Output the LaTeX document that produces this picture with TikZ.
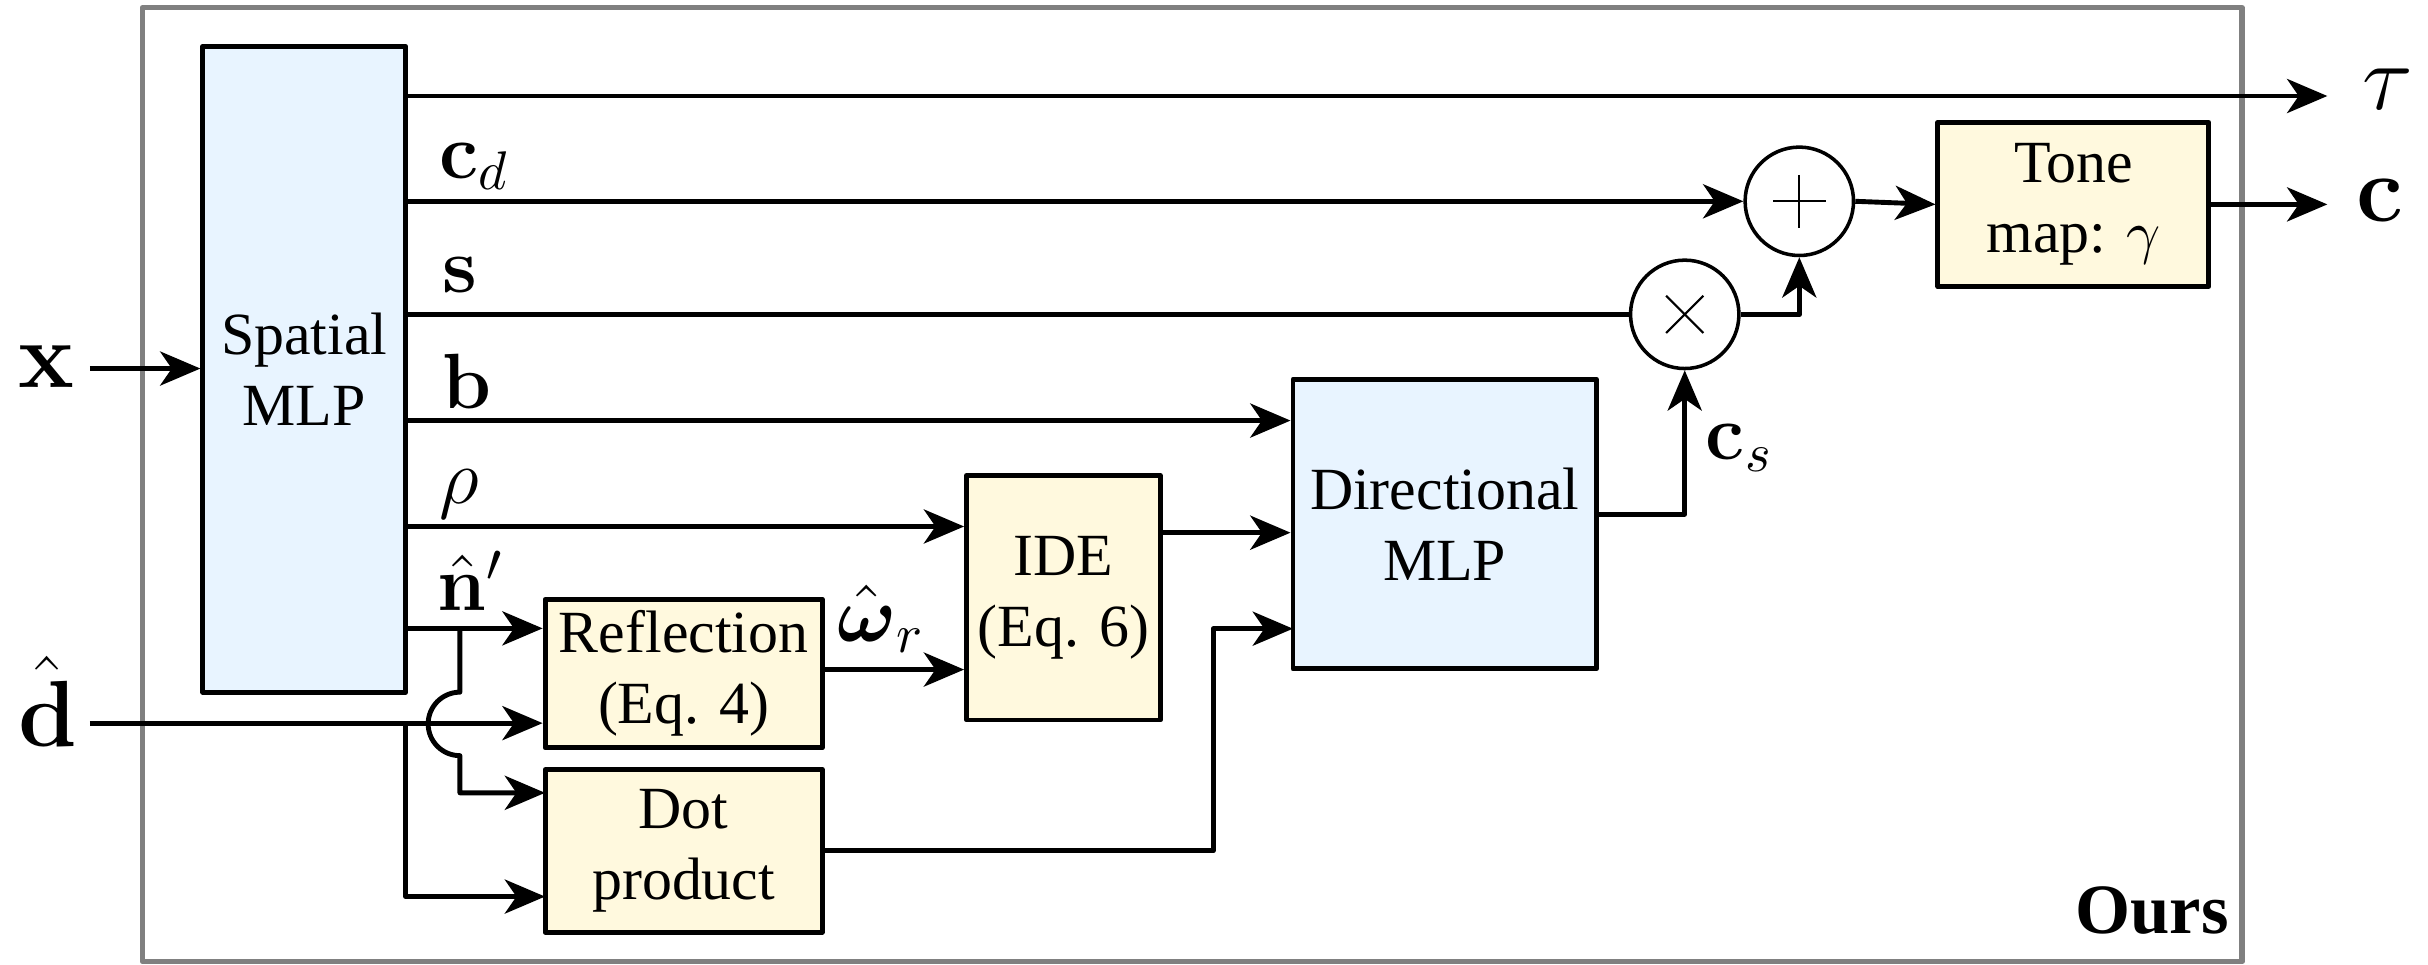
\documentclass[tikz,border=0pt]{standalone}
\usepackage{amsmath,amssymb}
\usepackage[no-math]{fontspec}
\setmainfont{Liberation Serif}
\usetikzlibrary{arrows.meta,calc,positioning}

\definecolor{mlpblue}{RGB}{232,244,255}
\definecolor{opyellow}{RGB}{255,249,222}
\definecolor{framegray}{RGB}{128,128,128}

\begin{document}
\begin{tikzpicture}[x=0.1mm,y=-0.1mm,line join=round,
  blk/.style={draw,line width=0.9pt,inner sep=0pt,align=center,font=\fontsize{11}{13}\selectfont},
  mlp/.style={blk,fill=mlpblue},
  op/.style={blk,fill=opyellow},
  sumnode/.style={draw,circle,line width=0.65pt,minimum size=7mm,inner sep=0pt},
  arr/.style={->,line width=0.9pt},
  lab/.style={anchor=base west,inner sep=0pt,font=\Large},
  biglab/.style={anchor=base west,inner sep=0pt,font=\fontsize{16}{18}\selectfont},
  >={Stealth[length=2.6mm,width=2.2mm,inset=0.75mm]}]
\useasboundingbox (0,0) rectangle (1568,623);
\draw[framegray,line width=1pt] (92,5) rectangle (1448,621);
% blocks
\node[mlp,minimum width=13.1mm,minimum height=41.7mm] (spatial) at (196.5,238.5) {Spatial\\MLP};
\node[mlp,minimum width=19.6mm,minimum height=18.7mm] (dir) at (933,338.5) {Directional\\MLP};
\node[op,minimum width=12.5mm,minimum height=15.8mm] (ide) at (686.7,386) {IDE\\(Eq. 6)};
\node[op,minimum width=17.9mm,minimum height=9.6mm] (refl) at (441.5,435) {Reflection\\(Eq. 4)};
\node[op,minimum width=17.9mm,minimum height=10.5mm] (dot) at (441.5,549.5) {Dot\\product};
\node[op,minimum width=17.5mm,minimum height=10.6mm] (tone) at (1339,132) {Tone\\map: $\gamma$};
\node[sumnode] (plus) at (1162,130) {};
\node[sumnode] (times) at (1088,203) {};
\draw[line width=0.4pt] ($(plus)+(-17,0)$)--($(plus)+(17,0)$) ($(plus)+(0,-17)$)--($(plus)+(0,17)$);
\draw[line width=0.4pt] ($(times)+(-12,-12)$)--($(times)+(12,12)$) ($(times)+(-12,12)$)--($(times)+(12,-12)$);
% taps and ends
\foreach \n/\y in {tau/62,cd/130,s/203,b/271.6,rho/340,n/405.8}{\coordinate (\n) at (262,\y);}
\coordinate (xin) at (58,238);
\coordinate (din) at (58,467);
\coordinate (tauout) at (1503,62);
\coordinate (cout) at (1503,132);
\coordinate (cs) at (1031,332);
\coordinate (ideo) at (749.5,344);
\coordinate (wr) at (531,432.4);
\coordinate (dotbend) at (783.5,549.5);
\coordinate (dirin) at (835,406);
\coordinate (dj) at (262,467);
\coordinate (nj) at (297,405.8);
\coordinate (hop) at (297,447);
\coordinate (dotn) at (352,512);
\coordinate (dotd) at (352,579);
% connectors
\draw[arr] (xin) -- (spatial.west |- xin);
\draw[arr] (tau) -- (tauout);
\draw[arr] (cd) -- (plus.west);
\draw[line width=0.9pt] (s) -- (times.west);
\draw[arr] (times.east) -| (plus.south);
\draw[arr] (plus.east) -- (tone.west);
\draw[arr] (tone.east |- cout) -- (cout);
\draw[arr] (b) -- (dir.west |- b);
\draw[arr] (cs) -| (times.south);
\draw[arr] (rho) -- (ide.west |- rho);
\draw[arr] (ideo) -- (dir.west |- ideo);
\draw[arr] (n) -- (refl.west |- n);
\draw[arr] (wr) -- (ide.west |- wr);
\draw[arr] (din) -- (refl.west |- din);
\draw[arr] (dot.east) -- (dotbend) |- (dirin);
\draw[arr] (dj) |- (dotd);
\draw[arr] (nj) -- (hop) arc[start angle=270,end angle=90,radius=20.5] |- (dotn);
% labels
\node[lab] (lcd) at (283,115) {$\mathbf{c}_d$};
\node[lab] (ls) at (285,189) {$\mathbf{s}$};
\node[lab] (lb) at (285,264) {$\mathbf{b}$};
\node[lab] (lrho) at (283,325) {$\rho$};
\node[lab] (ln) at (282,394) {$\hat{\mathbf{n}}'$};
\node[lab] (lwr) at (540,414) {$\hat{\boldsymbol{\omega}}_r$};
\node[lab] (lcs) at (1101,297) {$\mathbf{c}_s$};
\node[biglab] (lx) at (11,250) {$\mathbf{x}$};
\node[biglab] (ld) at (11,482) {$\hat{\mathbf{d}}$};
\node[biglab] (ltau) at (1525,71) {$\tau$};
\node[biglab] (lc) at (1521,143) {$\mathbf{c}$};
\node[anchor=base east,inner sep=0pt,font=\fontsize{13}{15}\selectfont\bfseries] (ours) at (1440,603) {Ours};
\end{tikzpicture}
\end{document}
